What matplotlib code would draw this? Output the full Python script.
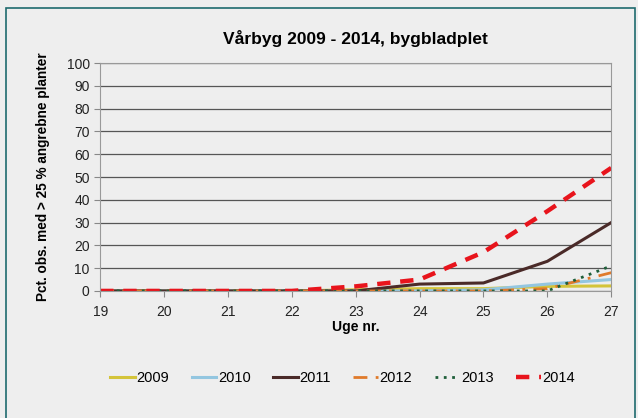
import matplotlib
matplotlib.use("Agg")
import matplotlib.pyplot as plt
from matplotlib.patches import Rectangle

plt.rcParams['font.family'] = ['Liberation Sans', 'DejaVu Sans']

# Data
weeks = [19, 20, 21, 22, 23, 24, 25, 26, 27]
y2009 = [0, 0, 0, 0, 0.5, 1, 1, 2, 2.2]
y2010 = [0, 0, 0, 0, 0, 0, 0.5, 3, 5]
y2011 = [0, 0, 0, 0, 0, 3, 3.5, 13, 30]
y2012 = [0, 0, 0, 0, 0, 0, 0, 1, 8]
y2013 = [0, 0, 0, 0, 0, 0, 0, 0, 11]
y2014 = [0, 0, 0, 0, 2, 5, 17, 35, 54]
yticks = list(range(0, 101, 10))

bg = '#eeeeee'
fig = plt.figure(figsize=(6.38, 4.18), dpi=100, facecolor=bg)
ax = fig.add_axes([0.157, 0.304, 0.801, 0.545], facecolor=bg)

# frame around chart
fig.patches.append(Rectangle((6 / 638, -0.1), 629 / 638, 1 - 8 / 418 + 0.1,
                             transform=fig.transFigure, fill=False,
                             edgecolor='#1f6a6e', linewidth=1.2))

ax.plot(weeks, y2009, color='#d4c43a', lw=2.2, label='2009')
ax.plot(weeks, y2010, color='#93c6e0', lw=2.2, label='2010')
ax.plot(weeks, y2011, color='#4a2a28', lw=2.2, label='2011')
ax.plot(weeks, y2012, color='#e07a2a', lw=2.0, dashes=(5, 3, 1, 3), label='2012')
ax.plot(weeks, y2013, color='#1f5f3a', lw=2.0, dashes=(1, 2), label='2013')
ax.plot(weeks, y2014, color='#e8141c', lw=3.2, dashes=(3, 2.2), label='2014')

ax.set_xlim(19, 27)
ax.set_ylim(0, 100)
ax.set_xticks(weeks)
ax.set_yticks(yticks)
ax.yaxis.grid(True, color='#555555', lw=0.9)
ax.set_axisbelow(True)
for s in ax.spines.values():
    s.set_color('#999999')
ax.tick_params(axis='both', colors='#888888', labelcolor='#222222', labelsize=10,
               length=4, direction='out')
ax.tick_params(axis='x', pad=6)

ax.set_title('Vårbyg 2009 - 2014, bygbladplet', fontsize=12.5, fontweight='bold', pad=14)
ax.set_xlabel('Uge nr.', fontsize=10, fontweight='bold', labelpad=1)
ax.set_ylabel('Pct. obs. med > 25 % angrebne planter', fontsize=9.8, fontweight='bold', labelpad=12)

fig.legend(loc='center', bbox_to_anchor=(0.537, 0.096), ncol=6, frameon=False,
           fontsize=10.5, handlelength=1.7, handletextpad=0.1, columnspacing=1.55)

fig.savefig('out.png', dpi=100, facecolor=bg)
